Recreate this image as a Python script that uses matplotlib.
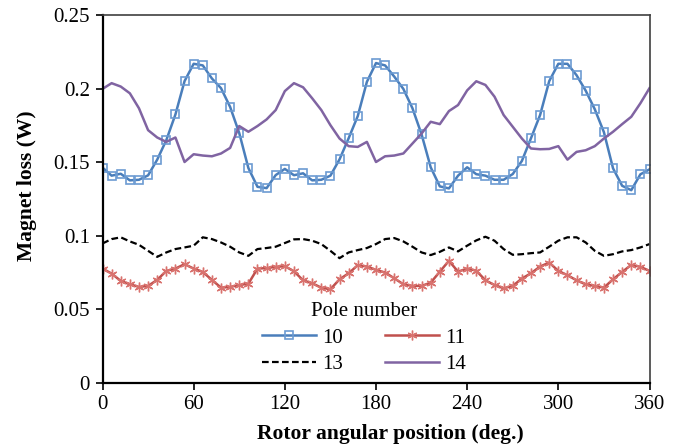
import numpy as np
import matplotlib
matplotlib.use("Agg")
import matplotlib.pyplot as plt

# rotor angle, one reading every 6 deg
angle = np.arange(0, 361, 6)

# magnet loss (W) for each pole number
loss_10 = [0.1464, 0.1409, 0.1422, 0.1377, 0.1381, 0.1411, 0.1518, 0.1651, 0.1826, 0.2053,
           0.2171, 0.2160, 0.2071, 0.2005, 0.1877, 0.1699, 0.1461, 0.1333, 0.1324, 0.1413,
           0.1455, 0.1412, 0.1425, 0.1377, 0.1381, 0.1409, 0.1520, 0.1664, 0.1815, 0.2048,
           0.2176, 0.2160, 0.2084, 0.2000, 0.1868, 0.1690, 0.1466, 0.1336, 0.1322, 0.1409,
           0.1466, 0.1419, 0.1409, 0.1381, 0.1381, 0.1420, 0.1509, 0.1664, 0.1822, 0.2053,
           0.2171, 0.2171, 0.2093, 0.1988, 0.1861, 0.1705, 0.1459, 0.1340, 0.1310, 0.1418,
           0.1452]
loss_11 = [0.0776, 0.0742, 0.0692, 0.0669, 0.0651, 0.0658, 0.0699, 0.0760, 0.0776, 0.0806,
           0.0776, 0.0753, 0.0699, 0.0646, 0.0651, 0.0664, 0.0673, 0.0776, 0.0779, 0.0788,
           0.0792, 0.0758, 0.0696, 0.0676, 0.0646, 0.0635, 0.0703, 0.0744, 0.0799, 0.0790,
           0.0767, 0.0749, 0.0710, 0.0669, 0.0658, 0.0658, 0.0680, 0.0755, 0.0829, 0.0755,
           0.0776, 0.0762, 0.0696, 0.0664, 0.0642, 0.0658, 0.0708, 0.0744, 0.0790, 0.0817,
           0.0760, 0.0731, 0.0696, 0.0669, 0.0658, 0.0646, 0.0703, 0.0753, 0.0801, 0.0788,
           0.0760]
loss_13 = [0.0947, 0.0977, 0.0989, 0.0961, 0.0938, 0.0897, 0.0856, 0.0886, 0.0909, 0.0920,
           0.0932, 0.0989, 0.0977, 0.0954, 0.0925, 0.0886, 0.0863, 0.0909, 0.0916, 0.0925,
           0.0950, 0.0975, 0.0977, 0.0966, 0.0943, 0.0897, 0.0847, 0.0886, 0.0902, 0.0916,
           0.0943, 0.0977, 0.0984, 0.0961, 0.0925, 0.0886, 0.0868, 0.0890, 0.0920, 0.0893,
           0.0932, 0.0968, 0.0993, 0.0966, 0.0909, 0.0870, 0.0874, 0.0881, 0.0886, 0.0925,
           0.0966, 0.0989, 0.0989, 0.0954, 0.0897, 0.0863, 0.0874, 0.0893, 0.0902, 0.0920,
           0.0943]
loss_14 = [0.2000, 0.2039, 0.2016, 0.1970, 0.1868, 0.1719, 0.1669, 0.1639, 0.1669, 0.1502,
           0.1555, 0.1546, 0.1541, 0.1560, 0.1598, 0.1747, 0.1708, 0.1747, 0.1792, 0.1856,
           0.1985, 0.2039, 0.2011, 0.1936, 0.1856, 0.1753, 0.1662, 0.1610, 0.1605, 0.1639,
           0.1502, 0.1541, 0.1546, 0.1560, 0.1628, 0.1696, 0.1776, 0.1760, 0.1849, 0.1890,
           0.1990, 0.2052, 0.2027, 0.1947, 0.1822, 0.1742, 0.1662, 0.1594, 0.1589, 0.1591,
           0.1610, 0.1518, 0.1571, 0.1582, 0.1610, 0.1662, 0.1708, 0.1760, 0.1810, 0.1902,
           0.2005]

plt.rcParams['font.family'] = ['Liberation Serif', 'DejaVu Serif']

fig = plt.figure(figsize=(6.83, 4.46), dpi=100)
ax = fig.add_axes([102.5/683, 1-382.5/446, 547/683, 367/446])

l10, = ax.plot(angle, loss_10, color='#4A7EBB', lw=1.8, marker='s', ms=6,
               mfc='none', mec='#6C9BD2', mew=1.2, label='10')
l11, = ax.plot(angle, loss_11, color='#C0504D', lw=1.8, marker=(6, 2, 0), ms=7,
               mec='#D9736F', mew=1.0, label='11')
l13, = ax.plot(angle, loss_13, color='black', lw=1.6, ls=(0, (3, 1.5)), label='13')
l14, = ax.plot(angle, loss_14, color='#8064A2', lw=1.8, label='14')

ax.set_xlim(0, 360)
ax.set_ylim(0, 0.25)
ax.set_xticks(np.arange(0, 361, 60))
ax.set_yticks([0, 0.05, 0.1, 0.15, 0.2, 0.25])
ax.set_yticklabels(['0', '0.05', '0.1', '0.15', '0.2', '0.25'])
ax.tick_params(labelsize=15, direction='out', length=5, width=1.2, pad=4)

for s in ['left', 'bottom']:
    ax.spines[s].set_linewidth(1.6)
    ax.spines[s].set_color('black')
for s in ['top', 'right']:
    ax.spines[s].set_linewidth(1.2)
    ax.spines[s].set_color('#404040')

ax.set_xlabel('Rotor angular position (deg.)', fontsize=15.5, fontweight='bold')
ax.xaxis.set_label_coords(0.527, -0.112)
ax.set_ylabel('Magnet loss (W)', fontsize=15.5, fontweight='bold')
ax.yaxis.set_label_coords(-0.12, 0.535)

# column-first fill, so order gives rows 10/11 and 13/14
leg = ax.legend([l10, l13, l11, l14], ['10', '13', '11', '14'], ncol=2, frameon=False,
                title='Pole number', fontsize=15, title_fontsize=15,
                loc='upper center', bbox_to_anchor=(0.478, 0.26),
                handlelength=2.6, columnspacing=2.0, handletextpad=0.3,
                labelspacing=0.35, borderpad=0.2)

fig.savefig('out.png', dpi=100)
